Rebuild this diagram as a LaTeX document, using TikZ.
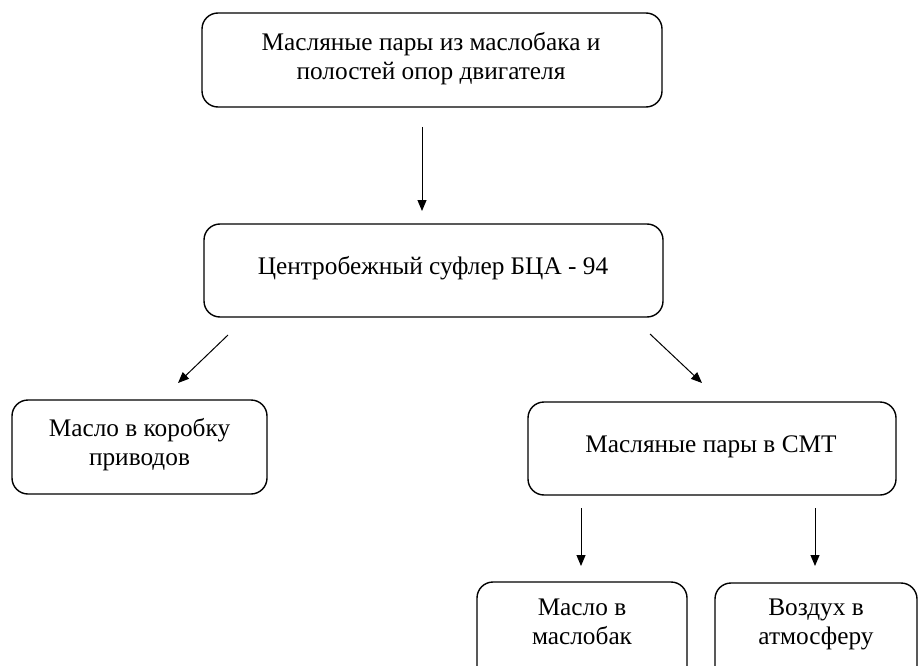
\documentclass[tikz,border=0pt]{standalone}
\usepackage{fontspec}
\setmainfont{Liberation Serif}
\usetikzlibrary{arrows.meta}
\begin{document}
\begin{tikzpicture}[x=1pt,y=1pt,
  box/.style={draw=black, line width=1.4pt, rounded corners=16pt, fill=none, inner sep=0pt},
  txt/.style={font=\fontsize{25.3}{29}\selectfont, align=center, inner sep=0pt, text=black},
  arr/.style={draw=black, line width=1pt, -{Triangle[length=11pt,width=9pt]}}]
\clip (0,0) rectangle (918,-666);
\fill[white] (0,0) rectangle (918,-666);
% boxes
\node[box, minimum width=460pt, minimum height=94pt] (b1) at (432,-60) {};
\node[box, minimum width=459pt, minimum height=93pt] (b2) at (433.5,-270.5) {};
\node[box, minimum width=255pt, minimum height=94pt] (b3) at (139.5,-447) {};
\node[box, minimum width=368pt, minimum height=93pt] (b4) at (712,-448.5) {};
\node[box, minimum width=210pt, minimum height=100pt] (b5) at (582,-632) {};
\node[box, minimum width=202pt, minimum height=100pt] (b6) at (816,-633) {};
% texts
\node[txt] (t1) at (431,-59) {\strut Масляные пары из маслобака и\\\strut полостей опор двигателя};
\node[txt] (t2) at (433,-269) {\strut Центробежный суфлер БЦА - 94};
\node[txt] (t3) at (139.5,-445) {\strut Масло в коробку\\\strut приводов};
\node[txt] (t4) at (711,-447) {\strut Масляные пары в СМТ};
\node[txt] (t5) at (582,-624) {\strut Масло в\\\strut маслобак};
\node[txt] (t6) at (816,-624) {\strut Воздух в\\\strut атмосферу};
% arrow end points
\coordinate (a1s) at (422,-127); \coordinate (a1e) at (422,-211);
\coordinate (a2s) at (228,-335); \coordinate (a2e) at (178,-383);
\coordinate (a3s) at (650,-334); \coordinate (a3e) at (702,-383);
\coordinate (a4s) at (581,-508); \coordinate (a4e) at (581,-566);
\coordinate (a5s) at (815,-508); \coordinate (a5e) at (815,-566);
\draw[arr] (a1s) -- (a1e);
\draw[arr] (a2s) -- (a2e);
\draw[arr] (a3s) -- (a3e);
\draw[arr] (a4s) -- (a4e);
\draw[arr] (a5s) -- (a5e);
\end{tikzpicture}
\end{document}
